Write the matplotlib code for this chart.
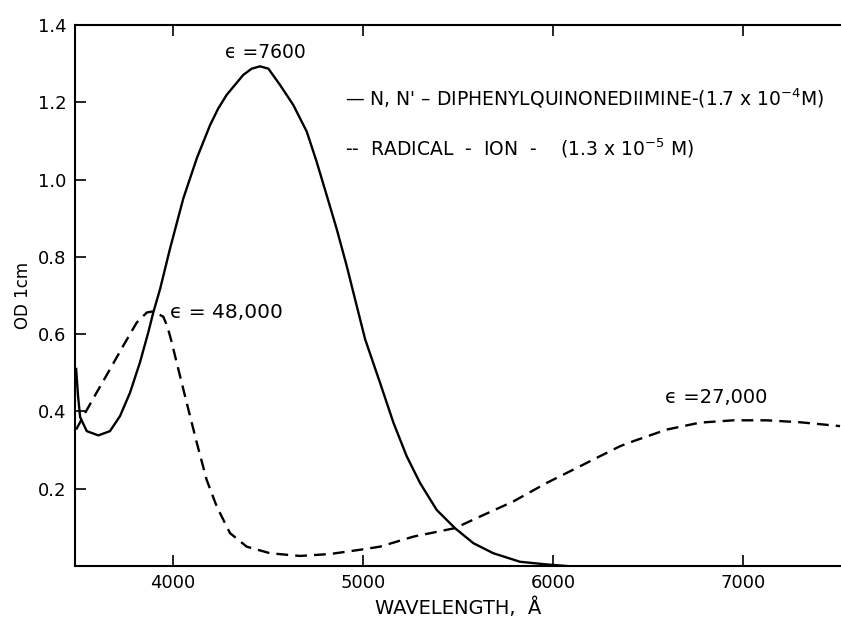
import matplotlib.pyplot as plt

# solid curve: N,N'-diphenylquinonediimine
wl_solid = [3490, 3500, 3511, 3546, 3607, 3668, 3721, 3774, 3826, 3870, 3896, 3932, 3984,
            4054, 4125, 4195, 4238, 4282, 4370, 4414, 4458, 4502, 4563, 4633, 4704,
            4756, 4809, 4861, 4914, 4967, 5011, 5089, 5160, 5230, 5300, 5388, 5484,
            5581, 5686, 5826, 5967, 6072]
od_solid = [0.51, 0.44, 0.385, 0.349, 0.338, 0.349, 0.388, 0.449, 0.527, 0.605, 0.656, 0.717, 0.821,
            0.951, 1.055, 1.141, 1.184, 1.219, 1.271, 1.287, 1.293, 1.287, 1.245, 1.193, 1.124,
            1.046, 0.959, 0.873, 0.777, 0.673, 0.587, 0.475, 0.371, 0.284, 0.215, 0.145, 0.098,
            0.059, 0.033, 0.011, 0.004, 0.0]

# dashed curve: radical ion
wl_dash = [3490, 3528, 3598, 3668, 3738, 3809, 3862, 3896, 3949, 3970, 3990, 4019,
           4063, 4125, 4177, 4230, 4300, 4388, 4511, 4668, 4826, 4984, 5089, 5265,
           5484, 5616, 5791, 5967, 6142, 6247, 6353, 6423, 6598, 6774, 6949, 7125,
           7300, 7511]
od_dash = [0.353, 0.388, 0.449, 0.509, 0.570, 0.630, 0.656, 0.659, 0.645, 0.62, 0.585, 0.527,
           0.440, 0.319, 0.223, 0.154, 0.085, 0.050, 0.033, 0.026, 0.031, 0.042, 0.050, 0.076,
           0.098, 0.128, 0.167, 0.215, 0.258, 0.284, 0.310, 0.323, 0.353, 0.371, 0.377, 0.377,
           0.372, 0.362]

x_ticks = [4000, 5000, 6000, 7000]
y_ticks = [0.2, 0.4, 0.6, 0.8, 1.0, 1.2, 1.4]

plt.rcParams['font.family'] = ['DejaVu Sans']

fig = plt.figure(figsize=(8.41, 6.21), dpi=100)
ax = fig.add_axes([75 / 841, 55 / 621, 1 - 75 / 841, 541 / 621])

ax.plot(wl_solid, od_solid, color='black', lw=1.7, solid_joinstyle='round')
ax.plot(wl_dash, od_dash, color='black', lw=1.7, dashes=(5, 3))

ax.set_xlim(3484, 7516)
ax.set_ylim(0, 1.4)
ax.set_xticks(x_ticks)
ax.set_xticklabels([str(t) for t in x_ticks])
ax.set_yticks(y_ticks)
ax.set_yticklabels([f'{t:.1f}' for t in y_ticks])
ax.tick_params(direction='in', length=8, width=1.2, labelsize=13, top=True, pad=6)
ax.spines['right'].set_visible(False)
for s in ['left', 'bottom', 'top']:
    ax.spines[s].set_linewidth(1.5)

ax.set_xlabel('WAVELENGTH,  Å', fontsize=14, labelpad=4)
ax.set_ylabel('OD 1cm', fontsize=12, labelpad=4)

# annotations
ax.text(4484, 1.33, 'ϵ =7600', fontsize=13.5, ha='center', va='center')
ax.text(3984, 0.657, 'ϵ = 48,000', fontsize=14.5, ha='left', va='center')
ax.text(6858, 0.436, 'ϵ =27,000', fontsize=14, ha='center', va='center')

# legend written as text, like the original
ax.text(4905, 1.21, "— N, N' – DIPHENYLQUINONEDIIMINE-(1.7 x 10$^{-4}$M)",
        fontsize=13.5, ha='left', va='center')
ax.text(4905, 1.08, "--  RADICAL  -  ION  -    (1.3 x 10$^{-5}$ M)",
        fontsize=13.5, ha='left', va='center')

plt.savefig('out.png', dpi=100)
